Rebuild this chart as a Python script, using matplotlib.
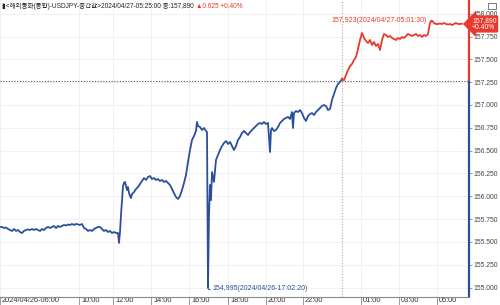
import numpy as np
import matplotlib
matplotlib.use("Agg")
import matplotlib.pyplot as plt
import matplotlib.transforms as mtrans
from matplotlib import font_manager
from matplotlib.patches import Rectangle

# ---------------- data ----------------
bar_pos = [0, 2, 4, 6, 8, 10, 12, 14, 16, 18, 20, 22, 24, 26, 28, 30, 32, 34, 36, 38,
           40, 42, 44, 46, 48, 50, 52, 54, 56, 58, 60, 62, 64, 66, 68, 70, 72, 74, 76, 78,
           80, 82, 84, 86, 88, 90, 92, 94, 96, 98, 100, 102, 104, 106, 108, 110, 112, 114, 116, 118,
           119, 120, 121, 122, 123, 124, 125, 126, 127, 128, 129, 130, 131, 132, 134, 136, 138, 140, 142, 144,
           146, 148, 150, 152, 154, 156, 158, 160, 162, 164, 166, 168, 170, 172, 174, 176, 178, 180, 182, 184,
           186, 188, 190, 192, 194, 196, 197, 198, 200, 202, 204, 206, 207, 208, 209, 210, 211, 212, 214, 216,
           218, 220, 222, 224, 226, 228, 230, 232, 234, 236, 238, 240, 242, 244, 246, 248, 250, 252, 254, 256,
           258, 260, 262, 264, 266, 268, 270, 271, 272, 274, 276, 278, 280, 282, 284, 286, 288, 290, 292, 293,
           294, 296, 298, 300, 302, 304, 306, 308, 310, 312, 314, 316, 318, 320, 322, 324, 326, 328, 330, 332,
           334, 336, 338, 340, 342, 344, 346, 348, 350, 352, 354, 356, 358, 360, 362, 364, 366, 368, 370, 372,
           374, 376, 378, 380, 382, 384, 386, 388, 390, 392, 394, 396, 398, 400, 402, 404, 406, 408, 410, 412,
           414, 416, 418, 420, 422, 424, 426, 428, 430, 432, 434, 436, 438, 440, 442, 444, 446, 448, 450, 452,
           454, 456, 458, 460, 462]

price = [155.664, 155.664, 155.653, 155.658, 155.642, 155.631, 155.620, 155.642, 155.620, 155.631,
         155.609, 155.598, 155.620, 155.631, 155.637, 155.631, 155.642, 155.631, 155.642, 155.631,
         155.620, 155.642, 155.631, 155.653, 155.664, 155.653, 155.664, 155.675, 155.653, 155.675,
         155.664, 155.675, 155.686, 155.680, 155.691, 155.686, 155.697, 155.686, 155.697, 155.691,
         155.686, 155.697, 155.653, 155.642, 155.620, 155.631, 155.620, 155.642, 155.653, 155.664,
         155.664, 155.642, 155.620, 155.631, 155.609, 155.620, 155.598, 155.609, 155.598, 155.598,
         155.489, 155.609, 155.795, 155.959, 156.113, 156.146, 156.157, 156.113, 156.069, 156.102,
         156.036, 156.003, 155.981, 156.025, 156.047, 156.080, 156.102, 156.135, 156.168, 156.200,
         156.179, 156.211, 156.222, 156.189, 156.200, 156.179, 156.189, 156.168, 156.179, 156.157,
         156.168, 156.146, 156.124, 156.080, 156.036, 155.992, 155.970, 156.003, 156.069, 156.146,
         156.233, 156.376, 156.507, 156.617, 156.660, 156.715, 156.814, 156.770, 156.759, 156.726,
         156.748, 156.715, 156.704, 154.995, 155.795, 156.124, 155.959, 156.266, 156.157, 156.398,
         156.452, 156.507, 156.551, 156.584, 156.606, 156.573, 156.595, 156.551, 156.507, 156.551,
         156.617, 156.649, 156.693, 156.715, 156.693, 156.671, 156.704, 156.726, 156.748, 156.770,
         156.792, 156.803, 156.792, 156.814, 156.792, 156.803, 156.485, 156.726, 156.748, 156.715,
         156.726, 156.759, 156.803, 156.825, 156.847, 156.858, 156.869, 156.847, 156.923, 156.748,
         156.912, 156.934, 156.923, 156.945, 156.912, 156.858, 156.825, 156.880, 156.901, 156.912,
         156.890, 156.923, 156.945, 156.967, 156.989, 157.000, 156.989, 156.945, 156.956, 157.055,
         157.120, 157.186, 157.230, 157.252, 157.285, 157.270, 157.329, 157.383, 157.427, 157.449,
         157.493, 157.526, 157.613, 157.712, 157.789, 157.734, 157.701, 157.679, 157.712, 157.657,
         157.690, 157.646, 157.668, 157.602, 157.712, 157.778, 157.767, 157.745, 157.756, 157.734,
         157.723, 157.712, 157.734, 157.723, 157.745, 157.734, 157.756, 157.778, 157.767, 157.756,
         157.767, 157.778, 157.756, 157.767, 157.745, 157.767, 157.756, 157.778, 157.898, 157.923,
         157.898, 157.887, 157.887, 157.893, 157.887, 157.898, 157.887, 157.882, 157.887, 157.876,
         157.887, 157.898, 157.887, 157.887, 157.890]

prev_close = 157.265
day_break_pos = 342
x_tick_pos = [0, 79, 113, 151, 189, 228, 266, 303, 361, 399, 437]
x_tick_labels = ["2024/04/26-06:00", "10:00", "12:00", "14:00", "16:00", "18:00",
                 "20:00", "22:00", "01:00", "03:00", "05:00"]
y_ticks = [155.0, 155.25, 155.5, 155.75, 156.0, 156.25, 156.5, 156.75,
           157.0, 157.25, 157.5, 157.75, 158.0]
max_label = "157,923(2024/04/27-05:01:30)"
min_label = "154,995(2024/04/26-17:02:20)"
header_black = "\u25ae<해외통화(통합)-USDJPY-중간값>2024/04/27-05:25:00 종:157,890 "
header_red = "\u25b20.625 +0.40%"
tag_text = "157,890\n+0.40%"

# ---------------- style ----------------
names = {f.name for f in font_manager.fontManager.ttflist}
narrow = "Liberation Sans Narrow" if "Liberation Sans Narrow" in names else "Liberation Sans"
plt.rcParams['font.family'] = [narrow, 'Noto Sans CJK KR', 'DejaVu Sans']

BLUE = "#2c4f9c"
RED = "#e8392e"
FS = 5.3
FS_Y = 4.9
FS_ANN = 5.0

W, H = 500, 305
fig = plt.figure(figsize=(W / 100, H / 100), dpi=100)
ax = fig.add_axes([0, 8 / H, 469 / W, 297 / H])
ax.set_xlim(0, 469)
ax.set_ylim(154.897, 158.150)

x = np.array(bar_pos)
p = np.array(price)
below = np.where(p < prev_close)[0]
cut = below[-1] + 1
ax.plot(x[:cut + 1], p[:cut + 1], color=BLUE, lw=1.3, zorder=3)
ax.plot(x[cut:], p[cut:], color=RED, lw=1.3, zorder=3)

# grid
ax.set_xticks(x_tick_pos)
ax.set_yticks(y_ticks)
ax.grid(True, color="#efefef", lw=0.6)
ax.set_axisbelow(True)

# reference lines
ax.axhline(prev_close, color="#555555", lw=0.8, ls=(0, (1, 1.5)), zorder=2)
ax.axvline(day_break_pos, color="#aaaaaa", lw=0.8, ls=(0, (1, 1.5)), zorder=2)

# spines
for s in ['top', 'left', 'right']:
    ax.spines[s].set_visible(False)
ax.spines['bottom'].set_color("#8a8a8a")
ax.spines['bottom'].set_linewidth(0.8)
ax.vlines(469, ax.get_ylim()[0], prev_close, colors=BLUE, lw=1.6, clip_on=False, zorder=4)
ax.vlines(469, prev_close, ax.get_ylim()[1], colors=RED, lw=1.6, clip_on=False, zorder=4)

# x tick labels
ax.set_xticklabels(x_tick_labels, fontsize=FS, color="#333333", ha='left')
ax.tick_params(axis='x', direction='out', length=6, width=0.6, color="#8a8a8a", pad=-6)
off = mtrans.ScaledTranslation(2 / 100, 0, fig.dpi_scale_trans)
for lab in ax.get_xticklabels():
    lab.set_transform(lab.get_transform() + off)

# y tick labels on the right
ax.yaxis.tick_right()
ax.set_yticklabels([f"{v:,.3f}" for v in y_ticks], fontsize=FS_Y, color="#444444")
ax.tick_params(axis='y', direction='out', length=2.5, width=0.6, color="#8a8a8a", pad=0.8)

# annotations
imax = int(np.argmax(p))
imin = int(np.argmin(p))
ax.annotate(max_label, xy=(x[imax], p[imax]), xytext=(-3.5, 0), textcoords='offset points',
            ha='right', va='center', fontsize=FS_ANN, color=RED,
            arrowprops=dict(arrowstyle='-', color=RED, lw=0.6, shrinkA=0, shrinkB=0), zorder=5)
ax.annotate(min_label, xy=(x[imin], p[imin]), xytext=(3.5, -0.5), textcoords='offset points',
            ha='left', va='center', fontsize=FS_ANN, color=BLUE,
            arrowprops=dict(arrowstyle='-', color=BLUE, lw=0.6, shrinkA=0, shrinkB=0,
                            connectionstyle='angle,angleA=0,angleB=90,rad=0'), zorder=5)

# price tag
fig.text(472 / W, 1 - 24 / H, tag_text, fontsize=FS_Y, color='white', ha='left', va='center',
         linespacing=0.95,
         bbox=dict(boxstyle='larrow,pad=0.15', fc=RED, ec=RED))

# header
t1 = fig.text(2 / W, 1 - 6 / H, header_black, fontsize=4.7, color="#222222", ha='left', va='center')
fig.canvas.draw()
bb = t1.get_window_extent()
fig.text(bb.x1 / W, 1 - 6 / H, header_red, fontsize=4.7, color=RED, ha='left', va='center')

# corner icon
fig.patches.append(Rectangle((488 / W, 1 - 9 / H), 8 / W, 6 / H, transform=fig.transFigure,
                             fc='white', ec="#666666", lw=0.6))

fig.savefig("out.png", dpi=100)
